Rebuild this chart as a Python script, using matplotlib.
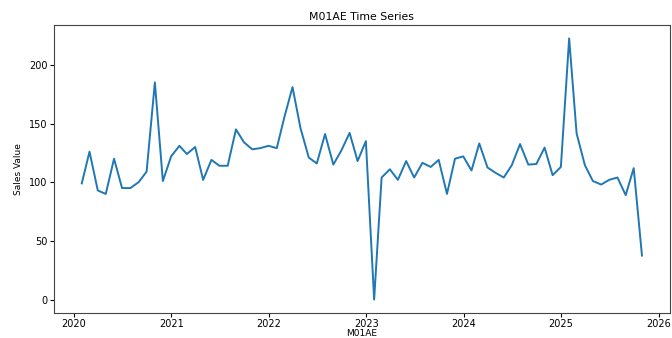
import matplotlib
matplotlib.use("Agg")
import matplotlib.pyplot as plt
import pandas as pd

# monthly sales for M01AE, month-end dates Jan 2020 .. Oct 2025
start = "2020-01-31"
sales = [
    99, 126, 93, 90, 120, 95, 95, 100, 109, 185,
    101, 122, 131, 124, 130, 102, 119, 114, 114, 145,
    134, 128, 129, 131, 129, 155, 181, 146, 121, 116,
    141, 115, 127, 142, 118, 135, 0, 104, 111, 102,
    118, 104, 116.5, 113, 119, 90, 120, 122, 110, 133,
    112.5, 108, 104, 114.5, 132.5, 115, 115.5, 129.5, 106, 113,
    222.5, 141.5, 114.5, 101, 98, 102, 104, 89, 112, 37.5,
]
dates = pd.date_range(start, periods=len(sales), freq="ME")

fig = plt.figure(figsize=(6.72, 3.38), dpi=100)
ax = fig.add_axes([0.080, 0.075, 0.917, 0.850])
ax.plot(dates, sales, color="#1f77b4", linewidth=1.4)

ax.set_title("M01AE Time Series", fontsize=7.8, pad=4)
ax.set_xlabel("M01AE", fontsize=6.5, labelpad=0)
ax.set_ylabel("Sales Value", fontsize=6.5, labelpad=4)
ax.tick_params(labelsize=7, length=3, pad=1.5)
for s in ax.spines.values():
    s.set_color("#444444")

fig.savefig("out.png", dpi=100)
